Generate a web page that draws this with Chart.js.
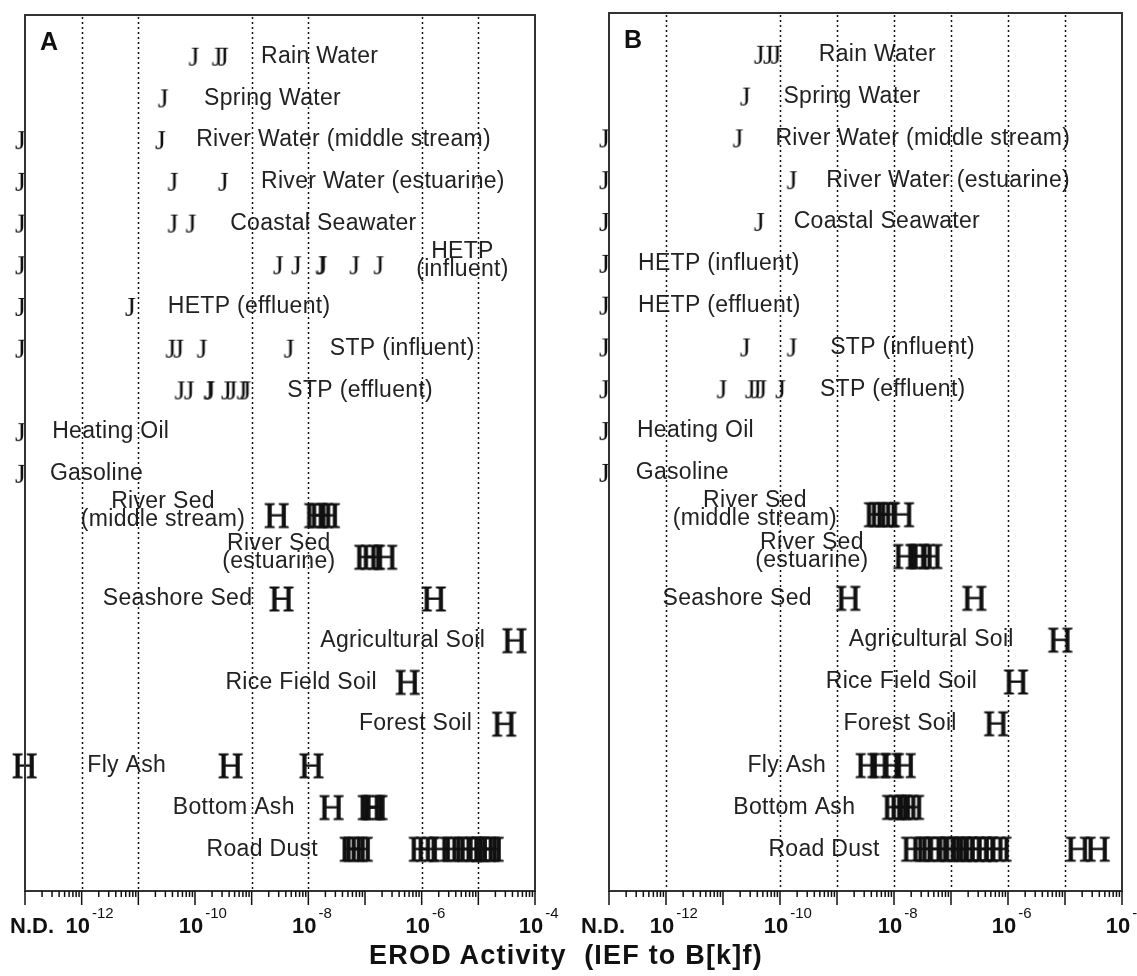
<!DOCTYPE html>
<html>
<head>
<meta charset="utf-8">
<script src="https://cdn.jsdelivr.net/npm/chart.js@4.4.1/dist/chart.umd.min.js"></script>
<style>
  body { margin: 0; background: #fff; width: 1137px; height: 976px; position: relative; overflow: hidden; }
  canvas { position: absolute; top: 0; }
  #title {
    position: absolute; left: 0; top: 942px; width: 1132px; text-align: center;
    font: bold 27px/27px "Liberation Sans", Arial, sans-serif; letter-spacing: 1.2px;
    white-space: pre; color: #111;
  }
</style>
</head>
<body>
<canvas id="panelA" width="568" height="976" style="left:0"></canvas>
<canvas id="panelB" width="569" height="976" style="left:568px"></canvas>
<div id="title">EROD Activity  (IEF to B[k]f)</div>
<script>
// N.D. (not detected) samples sit on the left edge of the axis
const ND = 1e-13;

const liquids = ['Rain Water', 'Spring Water', 'River Water (middle stream)', 'River Water (estuarine)',
  'Coastal Seawater', 'HETP (influent)', 'HETP (effluent)', 'STP (influent)', 'STP (effluent)',
  'Heating Oil', 'Gasoline'];
const solids = ['River Sed (middle stream)', 'River Sed (estuarine)', 'Seashore Sed', 'Agricultural Soil',
  'Rice Field Soil', 'Forest Soil', 'Fly Ash', 'Bottom Ash', 'Road Dust'];
const categories = liquids.concat(solids);

// A panel, one list per category (same order as categories)
const erodA = [
  [1.15e-10, 2.95e-10, 3.8e-10],
  [3.3e-11],
  [ND, 2.95e-11],
  [ND, 4.9e-11, 3.8e-10],
  [ND, 4.9e-11, 1.02e-10],
  [ND, 3.55e-9, 7.4e-9, 2.0e-8, 2.1e-8, 7.9e-8, 2.1e-7],
  [ND, 8.7e-12],
  [ND, 4.5e-11, 6.2e-11, 1.6e-10, 5.5e-9],
  [6.5e-11, 9.5e-11, 2.1e-10, 2.2e-10, 4.3e-10, 5.4e-10, 8.1e-10, 9.5e-10],
  [ND],
  [ND],
  [2.8e-9, 1.4e-8, 1.7e-8, 2.24e-8],
  [1.07e-7, 1.4e-7, 2.3e-7],
  [3.4e-9, 1.66e-6],
  [4.4e-5],
  [5.75e-7],
  [2.9e-5],
  [ND, 4.3e-10, 1.15e-8],
  [2.6e-8, 1.23e-7, 1.4e-7, 1.55e-7],
  [5.9e-8, 6.9e-8, 8.5e-8, 9.8e-7, 1.3e-6, 2.2e-6, 3.4e-6, 5.1e-6, 7.1e-6, 9.8e-6, 1.26e-5, 1.48e-5, 1.74e-5]
];

// B panel
const erodB = [
  [5.2e-11, 7.5e-11, 1.02e-10],
  [2.95e-11],
  [ND, 2.2e-11],
  [ND, 1.95e-10],
  [ND, 5.2e-11],
  [ND],
  [ND],
  [ND, 2.95e-11, 1.95e-10],
  [ND, 1.15e-11, 3.6e-11, 4.6e-11, 5.75e-11, 1.23e-10],
  [ND],
  [ND],
  [4.9e-9, 6.0e-9, 7.5e-9, 1.4e-8],
  [1.6e-8, 2.6e-8, 3.2e-8, 4.4e-8],
  [1.6e-9, 2.6e-7],
  [8.4e-6],
  [1.4e-6],
  [6.3e-7],
  [3.5e-9, 5.6e-9, 9.3e-9, 1.5e-8],
  [1.02e-8, 1.33e-8, 1.66e-8, 2.1e-8],
  [2.2e-8, 3.2e-8, 4.6e-8, 6.0e-8, 8.7e-8, 1.15e-7, 1.45e-7, 1.8e-7, 2.4e-7, 3.2e-7, 4.2e-7,
   5.6e-7, 7.2e-7, 1.7e-5, 3.8e-5]
];

const tickExponents = [-12, -10, -8, -6, -4];
const gridA = [1e-12, 1e-11, 1e-9, 1e-8, 1e-6, 1e-5];
const gridB = [1e-12, 1e-10, 1e-9, 1e-8, 1e-7, 1e-6, 1e-5];

// where each category name is written: [exponent of anchor, align, split in two lines]
const labelPosA = [
  [-8.835, 'left'], [-9.84, 'left'], [-9.98, 'left'], [-8.835, 'left'], [-9.38, 'left'],
  [-5.28, 'center', true], [-10.48, 'left'], [-7.62, 'left'], [-8.37, 'left'], [-12.52, 'left'],
  [-12.56, 'left'], [-10.565, 'center', true], [-8.52, 'center', true], [-8.99, 'right'],
  [-4.88, 'right'], [-6.79, 'right'], [-5.11, 'right'], [-11.9, 'left'], [-8.24, 'right'], [-7.83, 'right']
];
const labelPosB = [
  [-9.32, 'left'], [-9.94, 'left'], [-10.08, 'left'], [-9.19, 'left'], [-9.76, 'left'],
  [-12.49, 'left'], [-12.49, 'left'], [-9.12, 'left'], [-9.30, 'left'], [-12.51, 'left'],
  [-12.53, 'left'], [-10.44, 'center', true], [-9.44, 'center', true], [-9.44, 'right'],
  [-5.90, 'right'], [-6.54, 'right'], [-6.90, 'right'], [-9.19, 'right'], [-8.68, 'right'], [-8.25, 'right']
];

const panels = {
  panelA: { letter: 'A', grid: gridA, labels: labelPosA },
  panelB: { letter: 'B', grid: gridB, labels: labelPosB }
};

// marker glyphs drawn as little canvases (J for water/oil, H for solids)
function glyph(ch, size, anchorRight, bold) {
  const c = document.createElement('canvas');
  c.width = 48; c.height = 48;
  const g = c.getContext('2d');
  g.font = size + 'px "Liberation Serif", "Times New Roman", serif';
  g.fillStyle = '#111';
  g.strokeStyle = '#111';
  const m = g.measureText(ch);
  const x0 = anchorRight ? 25 - m.actualBoundingBoxRight
    : 24 - (m.actualBoundingBoxRight - m.actualBoundingBoxLeft) / 2;
  const y0 = 24 + (m.actualBoundingBoxAscent - m.actualBoundingBoxDescent) / 2;
  g.fillText(ch, x0, y0);
  if (bold) {
    g.lineWidth = bold;
    g.strokeText(ch, x0, y0);
  }
  return c;
}
const markJ = glyph('J', 28, true, 0);
const markH = glyph('H', 35, false, 0.8);

function pointsFor(values, names) {
  const pts = [];
  names.forEach(name => {
    const i = categories.indexOf(name);
    values[i].forEach(v => pts.push({ x: v, y: i + 1 }));
  });
  return pts;
}

const SANS = '"Liberation Sans", Arial, sans-serif';

const panelDecor = {
  id: 'panelDecor',
  beforeDatasetsDraw(chart) {
    const p = panels[chart.canvas.id];
    const { ctx, scales: { x, y } } = chart;
    ctx.save();
    ctx.font = '23px ' + SANS;
    ctx.letterSpacing = '0.3px';
    ctx.fillStyle = '#222';
    ctx.textBaseline = 'middle';
    categories.forEach((name, i) => {
      const [exp, align, wrap] = p.labels[i];
      const px = x.getPixelForValue(Math.pow(10, exp));
      const py = y.getPixelForValue(i + 1);
      ctx.textAlign = align;
      if (wrap) {
        const cut = name.indexOf(' (');
        ctx.fillText(name.slice(0, cut), px, py - 14);
        ctx.fillText(name.slice(cut + 1), px, py + 4);
      } else {
        ctx.fillText(name, px, py);
      }
    });
    ctx.restore();
  },
  afterDatasetsDraw(chart) {
    const p = panels[chart.canvas.id];
    const { ctx, chartArea: a, scales: { x } } = chart;
    ctx.save();

    // dotted grid lines
    ctx.strokeStyle = '#111';
    ctx.lineWidth = 1.5;
    ctx.setLineDash([2, 3]);
    p.grid.forEach(v => {
      const px = Math.round(x.getPixelForValue(v)) + 0.5;
      ctx.beginPath();
      ctx.moveTo(px, a.top + 2);
      ctx.lineTo(px, a.bottom);
      ctx.stroke();
    });
    ctx.setLineDash([]);

    // frame
    ctx.strokeStyle = '#333';
    ctx.lineWidth = 2;
    ctx.strokeRect(a.left, a.top, a.right - a.left, a.bottom - a.top);

    // ticks below the axis
    ctx.strokeStyle = '#111';
    ctx.lineWidth = 1.5;
    for (let e = -13; e <= -4; e++) {
      for (let k = 1; k <= (e < -4 ? 9 : 1); k++) {
        const px = x.getPixelForValue(k * Math.pow(10, e));
        ctx.beginPath();
        ctx.moveTo(px, a.bottom);
        ctx.lineTo(px, a.bottom + (k === 1 ? 14 : 6));
        ctx.stroke();
      }
    }

    // tick labels
    ctx.fillStyle = '#111';
    ctx.textBaseline = 'alphabetic';
    ctx.font = 'bold 22px ' + SANS;
    ctx.textAlign = 'center';
    const ndW = ctx.measureText('N.D.').width;
    ctx.fillText('N.D.', Math.max(a.left - 6, 10 + ndW / 2), a.bottom + 42);
    tickExponents.forEach(e => {
      const px = x.getPixelForValue(Math.pow(10, e)) - 4;
      ctx.font = 'bold 22px ' + SANS;
      ctx.textAlign = 'center';
      ctx.fillText('10', px, a.bottom + 42);
      const w = ctx.measureText('10').width;
      ctx.font = '15px ' + SANS;
      ctx.textAlign = 'left';
      ctx.fillText('-' + (-e), px + w / 2 + 2, a.bottom + 27);
    });

    // panel letter
    ctx.font = 'bold 25px ' + SANS;
    ctx.textAlign = 'left';
    ctx.fillText(p.letter, a.left + 15, a.top + 35);
    ctx.restore();
  }
};

function makePanel(id, values, pad) {
  return new Chart(document.getElementById(id), {
    type: 'scatter',
    data: {
      datasets: [
        { data: pointsFor(values, liquids), pointStyle: markJ, pointRadius: 10, clip: false },
        { data: pointsFor(values, solids), pointStyle: markH, pointRadius: 12, clip: false }
      ]
    },
    options: {
      responsive: false,
      animation: false,
      events: [],
      layout: { padding: pad },
      plugins: { legend: { display: false }, tooltip: { enabled: false } },
      scales: {
        x: { type: 'logarithmic', min: ND, max: 1e-4, display: false },
        y: { type: 'linear', min: 0, max: 21, reverse: true, display: false }
      }
    },
    plugins: [panelDecor]
  });
}

makePanel('panelA', erodA, { left: 25, right: 33, top: 15, bottom: 85 });
makePanel('panelB', erodB, { left: 41, right: 15, top: 13, bottom: 85 });
</script>
</body>
</html>
